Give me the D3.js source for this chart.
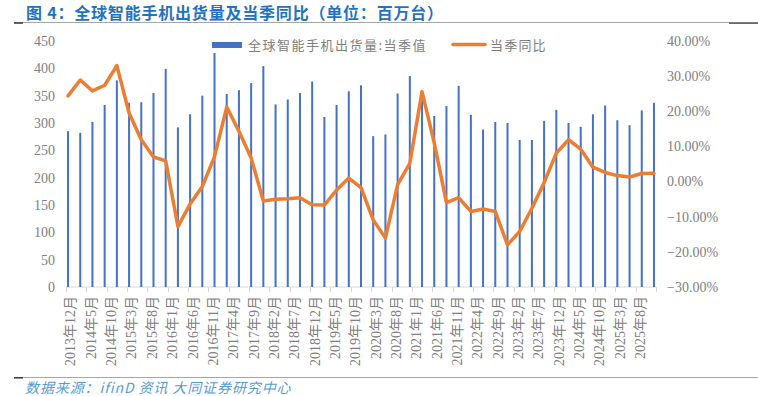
<!DOCTYPE html>
<html><head><meta charset="utf-8">
<script src="https://cdn.jsdelivr.net/npm/d3@7"></script>
<style>html,body{margin:0;padding:0;background:#fff;}</style>
</head><body><svg id="c" width="758" height="396"></svg>
<script>
// Quarter-end periods (year, month)
const periods = [
 "2013-12","2014-03","2014-06","2014-09","2014-12","2015-03","2015-06","2015-09","2015-12",
 "2016-03","2016-06","2016-09","2016-12","2017-03","2017-06","2017-09","2017-12",
 "2018-03","2018-06","2018-09","2018-12","2019-03","2019-06","2019-09","2019-12",
 "2020-03","2020-06","2020-09","2020-12","2021-03","2021-06","2021-09","2021-12",
 "2022-03","2022-06","2022-09","2022-12","2023-03","2023-06","2023-09","2023-12",
 "2024-03","2024-06","2024-09","2024-12","2025-03","2025-06","2025-09","2025-12"];
// 全球智能手机出货量:当季值 (百万台)
const shipments = [285,282,302,333,378,337,338,355,399,292,316,350,428,353,360,373,404,
 334,343,355,376,311,333,358,369,276,279,354,386,350,313,331,368,315,288,302,300,
 269,269,304,324,300,293,316,332,305,296,323,337];
// 当季同比 (%)
const yoy = [24.4,28.9,25.8,27.4,33.0,19.5,11.9,7.0,5.9,-12.8,-6.4,-1.4,7.1,21.2,14.3,6.7,
 -5.5,-5.0,-4.9,-4.6,-6.6,-6.7,-2.4,1.0,-1.7,-10.9,-16.1,-0.9,5.2,25.6,11.0,-6.0,-4.6,
 -8.5,-7.8,-8.5,-18.0,-14.2,-7.6,-0.3,8.1,11.9,9.2,4.1,2.6,1.7,1.3,2.3,2.4];
const xLabels = ["2013年12月","2014年5月","2014年10月","2015年3月","2015年8月","2016年1月",
 "2016年6月","2016年11月","2017年4月","2017年9月","2018年2月","2018年7月","2018年12月",
 "2019年5月","2019年10月","2020年3月","2020年8月","2021年1月","2021年6月","2021年11月",
 "2022年4月","2022年9月","2023年2月","2023年7月","2023年12月","2024年5月","2024年10月",
 "2025年3月","2025年8月"];
const leftTicks = [0,50,100,150,200,250,300,350,400,450];
const rightTicks = [-30,-20,-10,0,10,20,30,40];
const seriesNames = ["全球智能手机出货量:当季值","当季同比"];
const titleText = "图 4：全球智能手机出货量及当季同比（单位：百万台）";
const sourceText = "数据来源：ifinD 资讯 大同证券研究中心";

const svg = d3.select("#c");
const monthIdx = p => { const [y,m] = p.split("-").map(Number); return (y-2013)*12 + (m-12); };
const totalMonths = monthIdx("2025-12") + 1; // 145 month slots
const x = d3.scaleLinear().domain([0,totalMonths]).range([66,656]);
const yL = d3.scaleLinear().domain([0,450]).range([287,41]);
const yR = d3.scaleLinear().domain([-30,40]).range([287,41]);
const grey = "#808080";
const serif = "'Liberation Serif','Noto Sans CJK SC',serif";
const cjk = "'Noto Sans CJK SC',sans-serif";

svg.append("rect").attr("width",758).attr("height",396).attr("fill","#fff");

// Title and rules
svg.append("text").attr("x",26).attr("y",13).attr("dy","0.35em")
 .attr("font-family",cjk).attr("font-weight","bold").attr("font-size",16)
 .attr("letter-spacing",0.8).attr("fill","#1f73c1").text(titleText);
svg.append("line").attr("x1",14).attr("x2",758).attr("y1",22.5).attr("y2",22.5).attr("stroke","#a6a6a6").attr("stroke-width",1.2);
svg.append("line").attr("x1",14).attr("x2",23).attr("y1",23).attr("y2",23).attr("stroke","#404040").attr("stroke-width",1.6);
svg.append("line").attr("x1",729).attr("x2",758).attr("y1",23.2).attr("y2",23.2).attr("stroke","#595959").attr("stroke-width",1.4);
svg.append("line").attr("x1",14).attr("x2",758).attr("y1",377.5).attr("y2",377.5).attr("stroke","#a6a6a6").attr("stroke-width",1.2);
svg.append("line").attr("x1",14).attr("x2",23).attr("y1",377.8).attr("y2",377.8).attr("stroke","#404040").attr("stroke-width",1.6);
svg.append("text").attr("x",25).attr("y",388).attr("dy","0.35em")
 .attr("font-family",cjk).attr("font-style","italic").attr("font-size",14)
 .attr("letter-spacing",0.9).attr("fill","#5b9bd5").text(sourceText);

// Left axis labels
svg.append("g").selectAll("text").data(leftTicks).join("text")
 .attr("x",55).attr("y",d=>yL(d)).attr("dy","0.35em").attr("text-anchor","end")
 .attr("font-family",serif).attr("font-size",14).attr("fill",grey).text(d=>d);
// Right axis labels
svg.append("g").selectAll("text").data(rightTicks).join("text")
 .attr("x",667).attr("y",d=>yR(d)).attr("dy","0.35em").attr("text-anchor","start")
 .attr("font-family",serif).attr("font-size",14).attr("fill",grey).text(d=>d3.format(".2f")(d)+"%");

// X axis line and ticks
svg.append("line").attr("x1",x(0)).attr("x2",x(totalMonths)).attr("y1",287).attr("y2",287)
 .attr("stroke","#d9d9d9").attr("stroke-width",1);
svg.append("g").selectAll("line").data(d3.range(0,xLabels.length+1)).join("line")
 .attr("x1",d=>Math.round(x(d*5))+0.5).attr("x2",d=>Math.round(x(d*5))+0.5)
 .attr("y1",287).attr("y2",292).attr("stroke","#d9d9d9");
svg.append("g").selectAll("text").data(xLabels).join("text")
 .attr("transform",(d,i)=>`translate(${x(i*5+0.5)+2.5},296) rotate(-90)`)
 .attr("dy","0.35em").attr("text-anchor","end")
 .attr("font-family",serif).attr("font-size",14).attr("fill",grey).text(d=>d);

// Bars
svg.append("g").selectAll("rect").data(shipments).join("rect")
 .attr("x",(d,i)=>x(monthIdx(periods[i])+0.5)-1).attr("width",2)
 .attr("y",d=>yL(d)).attr("height",d=>yL(0)-yL(d)).attr("fill","#4472c4");

// Line
const line = d3.line().x((d,i)=>x(monthIdx(periods[i])+0.5)).y(d=>yR(d));
svg.append("path").datum(yoy).attr("d",line).attr("fill","none")
 .attr("stroke","#ed7d31").attr("stroke-width",3.5).attr("stroke-linejoin","round").attr("stroke-linecap","round");

// Legend
svg.append("rect").attr("x",212).attr("y",42).attr("width",30).attr("height",6).attr("fill","#4472c4");
svg.append("text").attr("x",248).attr("y",45.5).attr("dy","0.35em").attr("font-family",cjk)
 .attr("font-size",13).attr("letter-spacing",1.5).attr("fill",grey).text(seriesNames[0]);
svg.append("line").attr("x1",453).attr("x2",485).attr("y1",44.5).attr("y2",44.5)
 .attr("stroke","#ed7d31").attr("stroke-width",3.5).attr("stroke-linecap","round");
svg.append("text").attr("x",490).attr("y",45.5).attr("dy","0.35em").attr("font-family",cjk)
 .attr("font-size",13).attr("letter-spacing",1.2).attr("fill",grey).text(seriesNames[1]);
</script></body></html>
